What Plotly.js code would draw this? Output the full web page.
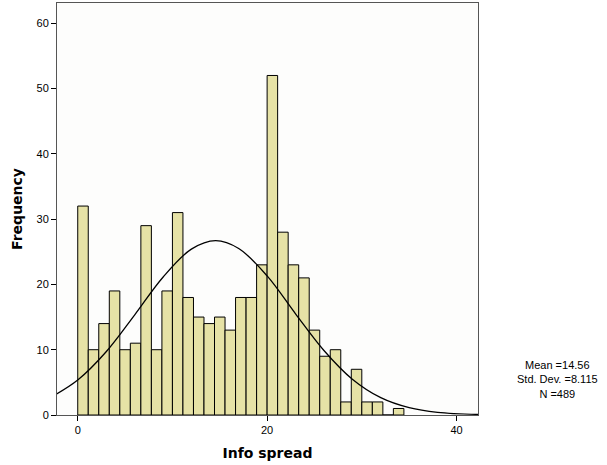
<!DOCTYPE html>
<html>
<head>
<meta charset="utf-8">
<script src="https://cdn.plot.ly/plotly-3.0.1.min.js"></script>
<style>html,body{margin:0;padding:0;background:#fff;}#chart{width:607px;height:465px;}</style>
</head>
<body>
<div id="chart"></div>
<script>
// Histogram counts (bins of width 10/9 starting at 0)
const binStart = 0;
const binWidth = 10 / 9;
const counts = [32, 10, 14, 19, 10, 11, 29, 10, 19, 31, 18, 15, 14, 15, 13, 18, 18,
                23, 52, 28, 23, 21, 13, 9, 10, 2, 7, 2, 2, 0, 1];
// Normal curve points
const curveX = [-3, 0, 3, 6, 9, 12, 14.56, 17, 20, 23, 26, 29, 32, 35, 38, 42.5];
const curveY = [2.57, 5.35, 9.68, 15.3, 21.1, 25.4, 26.7, 25.5, 21.3, 15.5, 9.88, 5.48, 2.65, 1.12, 0.41, 0.08];
const statsText = ["Mean =14.56", "Std. Dev. =8.115", "N =489"];
const xTicks = [0, 20, 40];
const yTicks = [0, 10, 20, 30, 40, 50, 60];

const binCenters = counts.map((c, i) => binStart + (i + 0.5) * binWidth);

const traces = [
  {
    type: 'bar',
    x: binCenters,
    y: counts,
    width: binWidth,
    marker: {color: '#e6e2a6', line: {color: '#000000', width: 1}},
    hoverinfo: 'x+y'
  },
  {
    type: 'scatter',
    mode: 'lines',
    x: curveX,
    y: curveY,
    line: {color: '#000000', width: 1.3, shape: 'spline', smoothing: 1},
    hoverinfo: 'skip'
  }
];

const layout = {
  width: 607,
  height: 465,
  margin: {l: 57, r: 129, t: 3, b: 50},
  paper_bgcolor: '#ffffff',
  plot_bgcolor: '#fdfdfc',
  showlegend: false,
  bargap: 0,
  font: {family: 'Liberation Sans, Arial, sans-serif', size: 11, color: '#000'},
  xaxis: {
    range: [-2.19, 42.27],
    tickvals: xTicks,
    ticktext: xTicks.map(String),
    ticks: 'outside',
    ticklen: 5,
    tickcolor: '#000',
    showgrid: false,
    zeroline: false,
    showline: true,
    linecolor: '#555',
    linewidth: 1,
    mirror: true,
    tickfont: {size: 11},
    title: {text: 'Info spread', font: {size: 14, family: 'DejaVu Sans, sans-serif', weight: 'bold'}, standoff: 12}
  },
  yaxis: {
    range: [0, 63.1],
    tickvals: yTicks,
    ticktext: yTicks.map(String),
    ticks: 'outside',
    ticklen: 5,
    tickcolor: '#000',
    showgrid: false,
    zeroline: false,
    showline: true,
    linecolor: '#555',
    linewidth: 1,
    mirror: true,
    tickfont: {size: 11},
    title: {text: 'Frequency', font: {size: 14, family: 'DejaVu Sans, sans-serif', weight: 'bold'}, standoff: 10}
  },
  annotations: [{
    xref: 'paper', yref: 'paper',
    x: 1.188, y: 0.087,
    xanchor: 'center', yanchor: 'middle',
    text: statsText.join('<br>'),
    showarrow: false,
    align: 'center',
    font: {size: 11, family: 'Liberation Sans, Arial, sans-serif', color: '#000'}
  }]
};

Plotly.newPlot('chart', traces, layout, {displayModeBar: false, staticPlot: true});
</script>
</body>
</html>
